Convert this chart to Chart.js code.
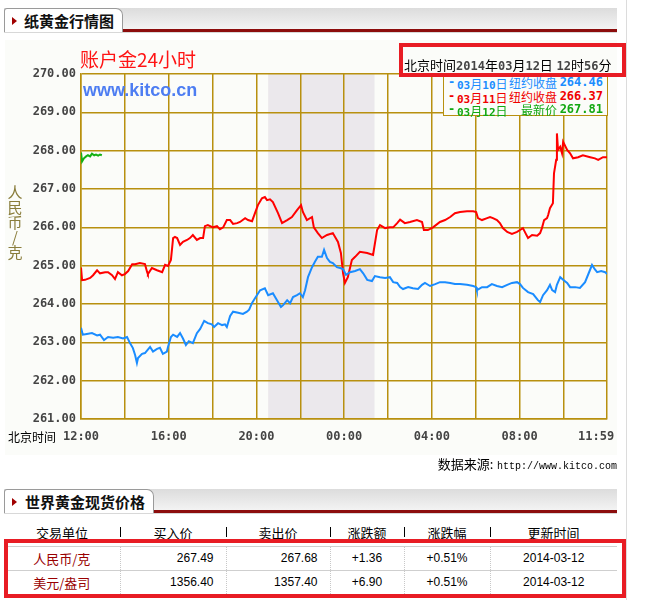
<!DOCTYPE html>
<html>
<head>
<meta charset="utf-8">
<script src="https://cdn.jsdelivr.net/npm/chart.js@4.4.1/dist/chart.umd.min.js"></script>
<style>
  body { margin: 0; width: 668px; height: 600px; background: #fff; position: relative; overflow: hidden;
         font-family: "Noto Sans CJK SC", sans-serif; }
  .abs { position: absolute; }
  .bar { left: 4px; width: 613px; height: 22px; background: linear-gradient(#dcdcdc, #f4f4f4); }
  .redline { left: 4px; width: 613px; height: 3px; background: #8c0d0d; }
  .greyline { left: 4px; width: 613px; height: 1px; background: #d8d8d8; }
  .tab { height: 24px; background: #fff; border: 1px solid #9a9a9a; border-bottom: none;
         border-radius: 3px 7px 0 0; box-sizing: border-box; }
  .tri { width: 0; height: 0; border-top: 4px solid transparent; border-bottom: 4px solid transparent;
         border-left: 5px solid #a00000; }
  .tabtxt { font-weight: bold; font-size: 15px; line-height: 15px; color: #111; }
  .num { font-family: "DejaVu Sans Mono", monospace; font-weight: bold; font-size: 12px; }
  .cj { font-family: "Noto Sans CJK SC", sans-serif; font-size: 13px; }
  .lg { position: absolute; left: 0; width: 164px; height: 13px; line-height: 13px; white-space: nowrap; }
  .lg > span { position: absolute; top: 0; }
  .lg .cj { font-size: 12px; }
  .lg .d { font-size: 11px; }
  table { border-collapse: collapse; table-layout: fixed; font-size: 13px; }
  td { height: 23px; padding: 0; border-bottom: 1px solid #cfcfcf; border-right: 1px dotted #c8c8c8; }
  td:last-child { border-right: none; }
  .n { font-family: "Liberation Sans", sans-serif; font-size: 12px; }
  .r { text-align: right; padding-right: 12px; }
  .c { text-align: center; }
  .unit { color: #990000; text-align: center; }
</style>
</head>
<body>

<!-- right page edge -->
<div class="abs" style="left:626px;top:0;width:1px;height:600px;background:#dcdcdc"></div>

<!-- tab 1 -->
<div class="abs bar" style="top:8px"></div>
<div class="abs redline" style="top:29px"></div>
<div class="abs greyline" style="top:32px"></div>
<div class="abs tab" style="left:4px;top:8px;width:119px"></div>
<div class="abs tri" style="left:12px;top:17px"></div>
<div class="abs tabtxt" style="left:24px;top:13px">纸黄金行情图</div>

<!-- chart panel -->
<div class="abs" style="left:5px;top:40px;width:612px;height:415px;background:#fbfcf9"></div>
<canvas id="goldChart" class="abs" width="612" height="415" style="left:5px;top:40px"></canvas>

<div class="abs" style="left:80px;top:49px;font-size:19px;line-height:19px;color:#ff1414">账户金24小时</div>
<div class="abs" style="left:83px;top:81px;font-family:'Liberation Sans',Arial,sans-serif;font-weight:bold;font-size:18px;line-height:18px;color:#4d7df2">www.kitco.cn</div>

<div class="abs" style="left:7px;top:184px;width:16px;font-size:15px;line-height:15px;color:#8a7d3c;text-align:center">人<br>民<br>币<br>/<br>克</div>
<div class="abs cj" style="left:8px;top:430px;line-height:14px;font-size:12px;color:#000">北京时间</div>

<!-- legend -->
<div class="abs" style="left:443px;top:73px;width:165px;height:43px;box-sizing:border-box;border:1px solid #b8900f;background:#fbfcf9">
  <div class="lg" style="top:2px;color:#1a8cff"><span class="num" style="left:4px">-</span><span style="left:13px"><span class="num d">03</span><span class="cj">月</span><span class="num d">10</span><span class="cj">日</span></span><span class="cj" style="right:51px">纽约收盘</span><span class="num" style="right:5px">264.46</span></div>
  <div class="lg" style="top:16px;color:#f00000"><span class="num" style="left:4px">-</span><span style="left:13px"><span class="num d">03</span><span class="cj">月</span><span class="num d">11</span><span class="cj">日</span></span><span class="cj" style="right:51px">纽约收盘</span><span class="num" style="right:5px">266.37</span></div>
  <div class="lg" style="top:29px;color:#12a812"><span class="num" style="left:4px">-</span><span style="left:13px"><span class="num d">03</span><span class="cj">月</span><span class="num d">12</span><span class="cj">日</span></span><span class="cj" style="right:51px">最新价</span><span class="num" style="right:5px">267.81</span></div>
</div>

<!-- time stamp box -->
<div class="abs" style="left:399px;top:43px;width:227px;height:34px;box-sizing:border-box;border:4px solid #e81c24;padding:9px 0 0 1px;line-height:15px;color:#000;white-space:nowrap">
  <span class="cj">北京时间</span><span class="num" style="color:#444">2014</span><span class="cj">年</span><span class="num" style="color:#444">03</span><span class="cj">月</span><span class="num" style="color:#444">12</span><span class="cj">日</span> <span class="num" style="color:#444">12</span><span class="cj">时</span><span class="num" style="color:#444">56</span><span class="cj">分</span>
</div>

<div class="abs" style="left:380px;top:455px;width:237px;text-align:right;line-height:15px;white-space:nowrap"><span class="cj">数据来源:</span> <span style="font-family:'Liberation Mono',monospace;font-size:10px">http://www.kitco.com</span></div>

<!-- tab 2 -->
<div class="abs bar" style="top:489px"></div>
<div class="abs redline" style="top:510px"></div>
<div class="abs greyline" style="top:513px"></div>
<div class="abs tab" style="left:4px;top:489px;width:150px"></div>
<div class="abs tri" style="left:12px;top:498px"></div>
<div class="abs tabtxt" style="left:25px;top:494px">世界黄金现货价格</div>

<!-- price table -->
<table class="abs" style="left:4px;top:520px;width:613px">
  <colgroup><col style="width:116px"><col style="width:106px"><col style="width:104px"><col style="width:74px"><col style="width:86px"><col style="width:127px"></colgroup>
  <tr style="height:26px">
    <td class="c" style="border-right:none;border-bottom:none">交易单位</td>
    <td class="c" style="border-right:none;border-bottom:none">买入价</td>
    <td class="c" style="border-right:none;border-bottom:none">卖出价</td>
    <td class="c" style="border-right:none;border-bottom:none">涨跌额</td>
    <td class="c" style="border-right:none;border-bottom:none">涨跌幅</td>
    <td class="c" style="border-bottom:none">更新时间</td>
  </tr>
  <tr style="border-top:1px solid #cfcfcf">
    <td class="unit">人民币/克</td><td class="n r">267.49</td><td class="n r">267.68</td>
    <td class="n c">+1.36</td><td class="n c">+0.51%</td><td class="n c">2014-03-12</td>
  </tr>
  <tr>
    <td class="unit">美元/盎司</td><td class="n r">1356.40</td><td class="n r">1357.40</td>
    <td class="n c">+6.90</td><td class="n c">+0.51%</td><td class="n c">2014-03-12</td>
  </tr>
</table>
<div class="abs" style="left:120px;top:527px;width:1px;height:10px;background:#000"></div>
<div class="abs" style="left:226px;top:527px;width:1px;height:10px;background:#000"></div>
<div class="abs" style="left:330px;top:527px;width:1px;height:10px;background:#000"></div>
<div class="abs" style="left:404px;top:527px;width:1px;height:10px;background:#000"></div>
<div class="abs" style="left:490px;top:527px;width:1px;height:10px;background:#000"></div>
<div class="abs" style="left:4px;top:539px;width:622px;height:59px;box-sizing:border-box;border:4px solid #e81c24"></div>

<script>
// minutes after 12:00 Beijing time
const blueMinutes = [0,5,16,30,44,52,63,74,88,101,115,126,134,142,148,153,156,167,175,189,
  197,208,216,224,235,238,246,252,263,271,279,287,295,306,317,326,337,347,358,364,
  375,386,394,399,408,416,430,443,454,460,468,476,490,503,512,525,539,547,553,564,
  572,580,591,599,607,613,621,632,640,648,659,665,673,681,689,700,709,717,725,736,
  750,763,772,783,796,804,818,832,845,854,865,873,881,895,908,922,933,941,955,969,
  982,996,1010,1023,1037,1056,1073,1081,1083,1097,1111,1124,1138,1152,1166,1179,1193,1201,1209,1223,
  1237,1250,1256,1264,1275,1283,1289,1297,1302,1311,1319,1330,1338,1352,1365,1379,1393,1398,1406,1412,
  1423,1434,1439];
const blueValues = [263.38,263.20,263.22,263.24,263.18,263.20,263.06,263.14,263.12,263.14,
  263.10,263.14,262.98,262.85,262.67,262.46,262.59,262.70,262.72,262.88,
  262.76,262.83,262.86,262.70,262.76,262.88,263.14,263.20,263.14,263.24,
  263.10,262.93,263.03,262.98,263.24,263.35,263.56,263.50,263.47,263.40,
  263.50,263.45,263.47,263.40,263.69,263.80,263.77,263.74,263.80,263.85,
  264.03,264.15,264.36,264.41,264.23,264.28,264.05,263.92,263.97,264.10,
  264.02,264.18,264.23,264.28,264.18,264.36,264.70,264.96,265.10,265.23,
  265.23,265.41,265.20,265.10,265.07,264.96,264.94,264.91,264.76,264.83,
  264.86,264.91,264.80,264.63,264.60,264.73,264.70,264.68,264.70,264.57,
  264.55,264.44,264.39,264.44,264.41,264.39,264.50,264.55,264.47,264.52,
  264.57,264.57,264.55,264.52,264.52,264.50,264.47,264.44,264.36,264.44,
  264.44,264.52,264.47,264.44,264.50,264.55,264.57,264.52,264.42,264.31,
  264.26,264.10,264.05,264.23,264.36,264.50,264.36,264.31,264.50,264.70,
  264.63,264.55,264.44,264.44,264.42,264.57,264.90,265.02,264.90,264.83,
  264.86,264.83,264.78];

const redMinutes = [0,3,11,25,33,44,52,66,74,85,93,101,112,120,129,140,148,161,175,181,
  183,194,208,222,230,238,246,252,257,263,271,279,290,298,306,317,326,334,339,347,
  361,372,380,389,399,408,416,427,435,449,457,468,476,484,495,503,509,517,525,539,
  550,564,577,591,602,607,618,632,637,648,659,673,689,703,711,717,722,730,741,750,
  763,783,799,810,818,832,845,854,865,873,886,900,919,933,938,949,963,982,996,1010,
  1023,1037,1056,1073,1081,1086,1097,1111,1119,1127,1138,1146,1154,1166,1179,1193,1201,1209,1217,1223,
  1234,1248,1256,1261,1267,1275,1278,1283,1291,1294,1300,1302,1305,1311,1316,1319,1330,1338,1346,1360,
  1373,1393,1406,1415,1428,1439];
const redValues = [264.95,264.62,264.63,264.68,264.75,264.88,264.80,264.83,264.83,264.75,
  264.65,264.83,264.75,264.78,264.86,265.04,265.04,265.07,265.04,264.83,
  264.78,264.94,264.88,264.83,265.02,264.99,265.15,265.72,265.75,265.72,
  265.54,265.62,265.67,265.72,265.80,265.67,265.72,265.72,266.03,266.06,
  266.00,266.03,265.95,266.00,266.19,266.19,266.09,266.11,266.14,266.24,
  266.19,266.16,266.37,266.58,266.76,266.79,266.71,266.73,266.66,266.37,
  266.11,266.19,266.27,266.45,266.58,266.40,266.19,266.27,266.00,265.85,
  265.72,265.80,265.85,265.62,265.33,264.80,264.55,264.70,265.15,265.23,
  265.36,265.33,265.28,265.93,266.06,265.98,266.00,266.00,266.11,266.20,
  266.11,266.14,266.19,266.14,265.93,265.93,266.00,266.14,266.19,266.27,
  266.37,266.40,266.42,266.42,266.40,266.24,266.19,266.24,266.27,266.24,
  266.19,266.11,265.98,265.88,265.83,265.88,265.93,265.98,265.83,265.72,
  265.80,265.78,265.85,265.98,266.19,266.24,266.32,266.50,266.63,267.41,
  267.76,268.45,268.02,268.10,267.93,268.23,268.02,267.93,267.80,267.83,
  267.88,267.83,267.80,267.76,267.83,267.83];

const greenMinutes = [0,3,8,14,19,25,30,36,41,47,52,57];
const greenValues = [267.95,267.72,267.80,267.85,267.88,267.85,267.92,267.88,267.90,267.87,267.90,267.88];

const xTickMinutes = [0,120,240,360,480,600,720,840,960,1080,1200,1320,1439];
const xTickLabels = ['12:00','','16:00','','20:00','','00:00','','04:00','','08:00','','11:59   '];
const nySession = [512, 803]; // shaded New York trading window

const gridColor = '#b8900f';

function toPoints(mins, vals) {
    return mins.map((m, i) => ({ x: m, y: vals[i] }));
}

// grey band for NY session, drawn before the grid
const sessionShade = {
    id: 'sessionShade',
    beforeDraw(chart) {
        const { ctx, chartArea, scales } = chart;
        const x0 = scales.x.getPixelForValue(nySession[0]);
        const x1 = scales.x.getPixelForValue(nySession[1]);
        ctx.save();
        ctx.fillStyle = '#ebe8ec';
        ctx.fillRect(x0, chartArea.top, x1 - x0, chartArea.bottom - chartArea.top);
        ctx.restore();
    }
};

const lineStyle = { borderWidth: 2, pointRadius: 0, tension: 0, fill: false };

// fixed axis boxes so the plot lands where the original one sits
function fixX(s) { s.height = 36; s.paddingLeft = 0; s.paddingRight = 0; }
function fixY(s) { s.width = 76; s.paddingTop = 0; s.paddingBottom = 0; }

new Chart(document.getElementById('goldChart'), {
    type: 'line',
    data: {
        datasets: [
            Object.assign({ label: '03月10日', data: toPoints(blueMinutes, blueValues), borderColor: '#1a8cff' }, lineStyle),
            Object.assign({ label: '03月11日', data: toPoints(redMinutes, redValues), borderColor: '#ff0000' }, lineStyle),
            Object.assign({ label: '03月12日', data: toPoints(greenMinutes, greenValues), borderColor: '#14b014' }, lineStyle)
        ]
    },
    options: {
        responsive: false,
        animation: false,
        devicePixelRatio: 1,
        layout: { padding: { top: 34, right: 10, left: 0, bottom: 0 } },
        plugins: { legend: { display: false }, tooltip: { enabled: false } },
        scales: {
            x: {
                type: 'linear',
                min: 0,
                max: 1439,
                afterBuildTicks: s => { s.ticks = xTickMinutes.map(v => ({ value: v })); },
                afterFit: fixX,
                grid: { color: gridColor, lineWidth: 1.5, drawTicks: false },
                border: { color: gridColor, width: 1.5 },
                ticks: {
                    autoSkip: false,
                    maxRotation: 0,
                    padding: 11,
                    color: '#444',
                    font: { family: 'DejaVu Sans Mono', weight: 'bold', size: 12 },
                    callback: v => xTickLabels[xTickMinutes.indexOf(v)]
                }
            },
            y: {
                min: 261,
                max: 270,
                afterFit: fixY,
                grid: { color: gridColor, lineWidth: 1.5, drawTicks: false },
                border: { color: gridColor, width: 1.5 },
                ticks: {
                    stepSize: 1,
                    padding: 5,
                    color: '#444',
                    font: { family: 'DejaVu Sans Mono', weight: 'bold', size: 12 },
                    callback: v => v.toFixed(2)
                }
            }
        }
    },
    plugins: [sessionShade]
});
</script>
</body>
</html>
